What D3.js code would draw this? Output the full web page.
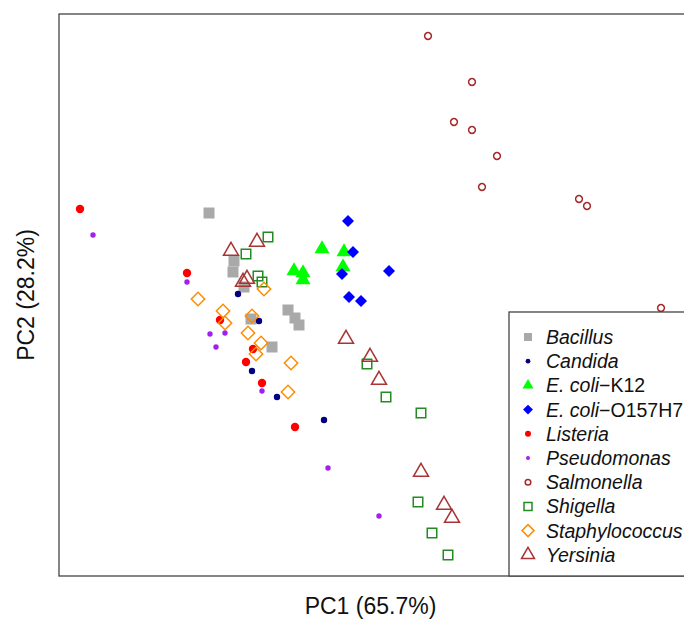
<!DOCTYPE html>
<html><head><meta charset="utf-8">
<script src="https://cdn.jsdelivr.net/npm/d3@7"></script>
<style>body{margin:0;background:#fff}svg{display:block}text{font-family:Arial,"Liberation Sans",sans-serif}</style>
</head><body><svg id="c" width="684" height="619"></svg>
<script>
// PCA scores [PC1, PC2]
const species = ["Bacillus","Candida","E. coli-K12","E. coli-O157H7","Listeria","Pseudomonas","Salmonella","Shigella","Staphylococcus","Yersinia"];
const bacillus = [[-0.50,0.63],[-0.25,0.15],[-0.26,0.04],[-0.15,-0.11],[-0.08,-0.43],[0.29,-0.34],[0.36,-0.42],[0.40,-0.49],[0.13,-0.71]];
const candida = [[-0.21,-0.18],[0.00,-0.45],[-0.07,-0.95],[0.18,-1.21],[0.65,-1.44]];
const ecoliK12 = [[0.63,0.27],[0.85,0.24],[0.35,0.05],[0.44,0.03],[0.44,-0.04],[0.84,0.09]];
const ecoliO157 = [[0.89,0.55],[0.94,0.24],[1.30,0.05],[0.83,0.02],[0.90,-0.21],[1.02,-0.25]];
const listeria = [[-1.79,0.67],[-0.72,0.03],[-0.39,-0.44],[-0.06,-0.73],[-0.13,-0.86],[0.03,-1.07],[0.36,-1.51]];
const pseudomonas = [[-1.66,0.41],[-0.72,-0.06],[-0.49,-0.58],[-0.34,-0.57],[-0.43,-0.71],[0.03,-1.15],[0.69,-1.92],[1.20,-2.40]];
const salmonella = [[1.69,2.40],[2.13,1.94],[1.95,1.54],[2.13,1.46],[2.38,1.20],[2.23,0.89],[3.20,0.77],[3.28,0.70],[4.02,-0.32]];
const shigella = [[0.09,0.39],[-0.13,0.22],[-0.01,0.00],[0.03,-0.06],[1.08,-0.88],[1.27,-1.21],[1.62,-1.37],[1.59,-2.26],[1.73,-2.57],[1.89,-2.79]];
const staphylococcus = [[-0.61,-0.23],[-0.36,-0.35],[-0.34,-0.47],[-0.07,-0.40],[-0.11,-0.57],[0.02,-0.67],[-0.03,-0.78],[0.32,-0.87],[0.29,-1.16],[0.05,-0.13]];
const yersinia = [[-0.28,0.25],[-0.02,0.34],[-0.16,-0.06],[-0.12,-0.03],[0.87,-0.63],[1.11,-0.81],[1.20,-1.04],[1.62,-1.96],[1.85,-2.29],[1.93,-2.42]];
const xLabel = "PC1 (65.7%)", yLabel = "PC2 (28.2%)";

const seriesData = [bacillus,candida,ecoliK12,ecoliO157,listeria,pseudomonas,salmonella,shigella,staphylococcus,yersinia];
const styles = [
  {shape:"square",  filled:true,  color:"#a9a9a9", s:11, ls:8},
  {shape:"circle",  filled:true,  color:"#000080", s:3.2, ls:2.4},
  {shape:"triangle",filled:true,  color:"#00ff00", s:15, ls:11},
  {shape:"diamond", filled:true,  color:"#0000ff", s:8.5, ls:7},
  {shape:"circle",  filled:true,  color:"#ff0000", s:4.2, ls:3},
  {shape:"circle",  filled:true,  color:"#a020f0", s:2.7, ls:2},
  {shape:"circle",  filled:false, color:"#a52a2a", s:3.4, ls:2.8},
  {shape:"square",  filled:false, color:"#228b22", s:9.5, ls:8},
  {shape:"diamond", filled:false, color:"#ff8c00", s:9.5, ls:8.5},
  {shape:"triangle",filled:false, color:"#a83535", s:15, ls:13}
];

const svg = d3.select("#c");
const L=59, T=14, B=576, R=709;
const x = d3.scaleLinear().domain([-2,4.5]).range([L,R]);
const y = d3.scaleLinear().domain([-3,2.62]).range([B,T]);

function symPath(shape, s){
  if(shape==="circle") return d3.symbol(d3.symbolCircle, Math.PI*s*s)();
  if(shape==="square") return d3.symbol(d3.symbolSquare, s*s)();
  if(shape==="diamond") return d3.symbol(d3.symbolSquare, s*s)();
  if(shape==="triangle") return d3.symbol(d3.symbolTriangle, Math.sqrt(3)/4*s*s)();
}
function drawSym(g, st, cx, cy, s){
  const rot = st.shape==="diamond" ? " rotate(45)" : "";
  g.append("path").attr("d", symPath(st.shape, s))
    .attr("transform", `translate(${cx},${cy})${rot}`)
    .attr("fill", st.filled ? st.color : "none")
    .attr("stroke", st.filled ? "none" : st.color)
    .attr("stroke-width", st.filled ? 0 : 1.5);
}

const pts = svg.append("g");
seriesData.forEach((arr,i)=>{
  arr.forEach(d=>drawSym(pts, styles[i], x(d[0]), y(d[1]), styles[i].s));
});

svg.append("rect").attr("x",L).attr("y",T).attr("width",R-L).attr("height",B-T)
  .attr("fill","none").attr("stroke","#444").attr("stroke-width",1.3);

svg.append("text").attr("x",(L+684)/2 - 1).attr("y",614).attr("text-anchor","middle")
  .attr("font-size",23).attr("fill","#111").text(xLabel);
svg.append("text").attr("transform",`translate(34,${(T+B)/2}) rotate(-90)`).attr("text-anchor","middle")
  .attr("font-size",23).attr("fill","#111").text(yLabel);

const lg = svg.append("g");
lg.append("rect").attr("x",509).attr("y",312).attr("width",200).attr("height",264)
  .attr("fill","#fff").attr("stroke","#444").attr("stroke-width",1.3);
species.forEach((name,i)=>{
  const yy = 337 + i*24.2;
  drawSym(lg, styles[i], 528, yy, styles[i].ls);
  const t = lg.append("text").attr("x",546).attr("y",yy+7).attr("font-size",19.5).attr("fill","#111");
  if(name.startsWith("E. coli-")){
    t.append("tspan").attr("font-style","italic").text("E. coli");
    t.append("tspan").text("\u2212"+name.slice(8));
  } else {
    t.attr("font-style","italic").text(name);
  }
});
</script></body></html>
